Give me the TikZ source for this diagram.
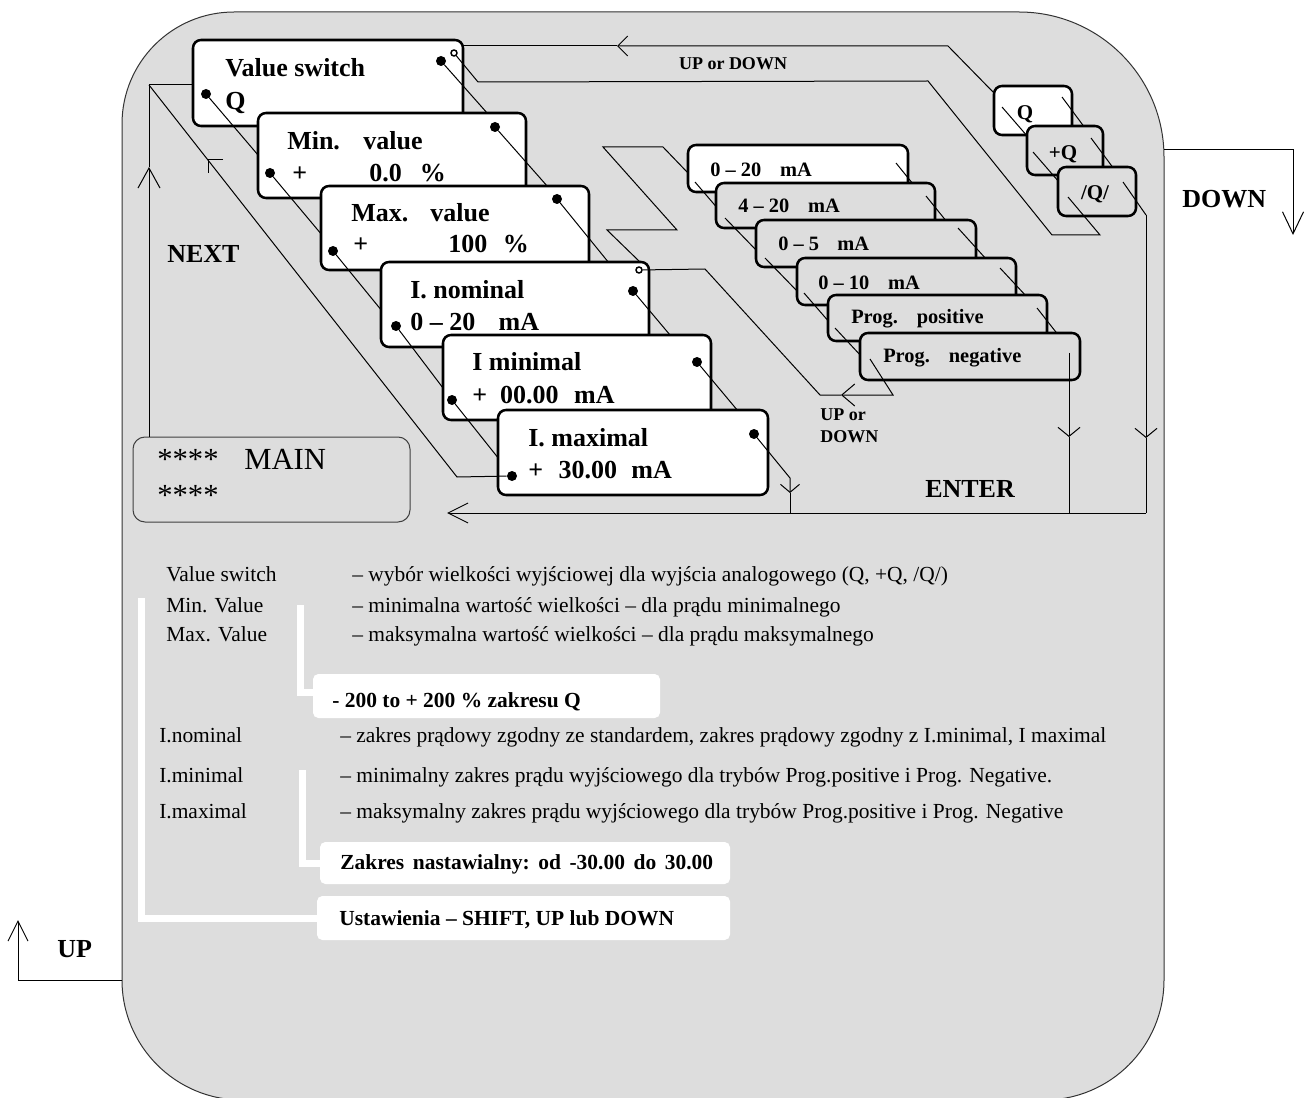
\documentclass[tikz,border=0pt]{standalone}
\usepackage{fontspec}
\setmainfont{Liberation Serif}
\usetikzlibrary{arrows.meta,fit}
\definecolor{panelgray}{RGB}{221,221,221}
\newcommand\fcard{\fontsize{19.5pt}{20pt}\selectfont\bfseries}
\newcommand\fma{\fontsize{15.3pt}{16pt}\selectfont\bfseries}
\newcommand\fqq{\fontsize{15.75pt}{16pt}\selectfont\bfseries}
\newcommand\fsmall{\fontsize{13.5pt}{14pt}\selectfont\bfseries}
\newcommand\fbig{\fontsize{19.5pt}{20pt}\selectfont\bfseries}
\newcommand\fmain{\fontsize{23pt}{24pt}\selectfont}
\newcommand\fdesc{\fontsize{16.1pt}{17pt}\selectfont}
\newcommand\fnote{\fontsize{16.1pt}{17pt}\selectfont\bfseries}
\tikzset{
  thinln/.style={line width=0.75pt},
  card/.style={draw, line width=1.9pt, rounded corners=6pt, inner sep=0pt},
  wcard/.style={card, fill=white},
  gcard/.style={card, fill=panelgray},
  dot/.style={circle, fill=black, inner sep=0pt, minimum size=7.5pt},
  hollow/.style={circle, draw, line width=1.1pt, fill=white, inner sep=0pt, minimum size=4.5pt},
  txt/.style={inner sep=0pt, anchor=base west},
  ctxt/.style={inner sep=0pt, anchor=base},
  notebox/.style={fill=white, rounded corners=4pt, inner sep=0pt},
  bracket/.style={white, line width=5.25pt},
}
\begin{document}
\begin{tikzpicture}[x=0.75pt,y=-0.75pt]
\useasboundingbox (0,0) rectangle (1307,1098);

% ---- panel -------------------------------------------------------------
\filldraw[fill=panelgray, draw=black!80, line width=0.75pt]
  (122,980) -- (122,124) arc[start angle=180,end angle=270,radius=112]
  -- (1019,12) arc[start angle=270,end angle=360,radius=145]
  -- (1164,980) arc[start angle=0,end angle=90,radius=120]
  -- (242,1100) arc[start angle=90,end angle=180,radius=120] -- cycle;

% ---- DOWN / UP keys outside the panel -----------------------------------
\coordinate (downA) at (1164,150);
\coordinate (downB) at (1293,150);
\coordinate (downC) at (1293,235);
\draw[thinln,-{Straight Barb[length=16.5pt,width=15.75pt]}] (downA) -- (downB) -- (downC);
\node[txt] (downL) at (1182,208) {\fbig DOWN};
\coordinate (upA) at (122,980);
\coordinate (upB) at (18,980);
\coordinate (upC) at (18,920);
\draw[thinln,-{Straight Barb[length=15pt,width=15pt]}] (upA) -- (upB) -- (upC);
\node[txt] (upL) at (57,957) {\fbig UP};

% ---- NEXT loop ------------------------------------------------------------
\draw[thinln, rounded corners=9pt, draw=black!75] (133,437) rectangle (410,522);
\node[txt] (st1) at (157,469) {\fmain ****};
\node[txt] (mainL) at (244,469) {\fmain MAIN};
\node[txt] (st2) at (157,505) {\fmain ****};
\coordinate (mainTop) at (149,437);
\coordinate (nextTip) at (149,167);
\coordinate (nextCorner) at (149,85);
\draw[thinln,-{Straight Barb[length=15pt,width=16.5pt]}] (mainTop) -- (nextTip);
\draw[thinln] (nextTip) -- (nextCorner) -- (193,85);
\draw[thinln] (223,160) -- (208,160) -- (208,173);
\node[txt] (nextL) at (167,263) {\fbig NEXT};

% ---- UP or DOWN loop (top) ----------------------------------------------
\coordinate (topTip) at (617,46);
\draw[thinln,-{Straight Barb[length=7.5pt,width=15pt]}] (994,93) -- (948,46) -- (topTip);
\draw[thinln] (topTip) -- (463,46);
\node[ctxt] (udTop) at (733,70) {\fsmall UP or DOWN};

% ---- zigzag from I. nominal to the current ranges -----------------------
\draw[thinln] (640,262) -- (607,230) -- (677,230) -- (603,147) -- (663,147) -- (688,173);

% ---- parameter cards --------------------------------------------------------
\node[wcard, fit={(193,40) (463,126)}] (vs) {};
\node[txt] at (225,77) {\fcard Value switch};
\node[txt] at (225,110) {\fcard Q};
\node[dot] (vsL) at (206,94) {};
\node[dot] (vsR) at (441,61) {};
\node[hollow] (vsH) at (454,53) {};
\draw[thinln] (vsL) -- (258,155);
\draw[thinln] (vsR) -- (488,114);

\node[wcard, fit={(258,113) (526,198)}] (minv) {};
\node[txt] at (287,150) {\fcard Min.\hspace{0.9em}value};
\node[txt] at (292,182) {\fcard +};
\node[txt] at (369,182) {\fcard 0.0\hspace{0.7em}\%};
\node[dot] (minL) at (270,173) {};
\node[dot] (minR) at (495,127) {};
\draw[thinln] (minL) -- (322,235);
\draw[thinln] (minR) -- (548,187);

\node[wcard, fit={(321,186) (589,270)}] (maxv) {};
\node[txt] at (351,222) {\fcard Max.\hspace{0.85em}value};
\node[txt] at (353,253) {\fcard +};
\node[txt] at (448,253) {\fcard 100\hspace{0.6em}\%};
\node[dot] (maxL) at (333,251) {};
\node[dot] (maxR) at (557,199) {};
\draw[thinln] (maxL) -- (382,311);
\draw[thinln] (maxR) -- (609,263);

\node[wcard, fit={(381,262) (649,347)}] (inom) {};
\node[txt] at (410,299) {\fcard I. nominal};
\node[txt] at (410,330) {\fcard 0 – 20\hspace{0.9em}mA};
\node[dot] (inomL) at (396,326) {};
\node[dot] (inomR) at (633,291) {};
\node[hollow] (inomH) at (639,270) {};
\draw[thinln] (inomL) -- (443,388);
\draw[thinln] (inomR) -- (670,335);

\node[wcard, fit={(443,335) (711,420)}] (imin) {};
\node[txt] at (472,371) {\fcard I minimal};
\node[txt] at (472,403) {\fcard +\hspace{0.5em}00.00\hspace{0.6em}mA};
\node[dot] (iminL) at (452,400) {};
\node[dot] (iminR) at (697,362) {};
\draw[thinln] (iminL) -- (499,459);
\draw[thinln] (iminR) -- (738,411);

\node[wcard, fit={(498,410) (768,495)}] (imax) {};
\node[txt] at (528,446) {\fcard I. maximal};
\node[txt] at (528,478) {\fcard +\hspace{0.6em}30.00\hspace{0.55em}mA};
\node[dot] (imaxL) at (512,476) {};
\node[dot] (imaxR) at (754,434) {};
\draw[thinln] (nextCorner) -- (457,477) -- (imaxL);

% ---- current range cards --------------------------------------------------
\node[wcard, fit={(688,145) (908,192)}] (r1) {};
\node[txt] at (710,177) {\fma 0 – 20\hspace{0.93em}mA};
\draw[thinln] (695,182) -- (719,210);
\draw[thinln] (896,163) -- (913,184);
\node[gcard, fit={(716,183) (935,228)}] (r2) {};
\node[txt] at (738,213) {\fma 4 – 20\hspace{0.93em}mA};
\draw[thinln] (725,218) -- (757,251);
\draw[thinln] (926,196) -- (947,222);
\node[gcard, fit={(756,220) (976,267)}] (r3) {};
\node[txt] at (778,251) {\fma 0 – 5\hspace{0.9em}mA};
\draw[thinln] (765,258) -- (798,292);
\draw[thinln] (958,228) -- (987,260);
\node[gcard, fit={(797,258) (1016,305)}] (r4) {};
\node[txt] at (818,290) {\fma 0 – 10\hspace{0.93em}mA};
\draw[thinln] (804,293) -- (830,323);
\draw[thinln] (1000,268) -- (1027,297);
\node[gcard, fit={(828,295) (1047,341)}] (r5) {};
\node[txt] at (851,324) {\fma Prog.\hspace{0.93em}positive};
\draw[thinln] (835,328) -- (862,357);
\draw[thinln] (1037,308) -- (1059,336);
\node[gcard, fit={(860,333) (1080,380)}] (r6) {};
\node[txt] at (883,363) {\fma Prog.\hspace{0.93em}negative};

% return path of the ranges
\coordinate (rTip) at (841,395);
\draw[thinln,-{Straight Barb[length=9.75pt,width=16.5pt]}] (870,359) -- (893,395) -- (rTip);
\draw[thinln] (rTip) -- (820,395) -- (705,269) -- (inomH);
\node[txt] at (820,420) {\fsmall UP or};
\node[txt] at (820,442) {\fsmall DOWN};

% ---- Q / +Q / /Q/ cards --------------------------------------------------------
\node[wcard, fit={(994,86) (1072,135)}] (q1) {};
\node[ctxt] at (1025,120) {\fqq Q};
\draw[thinln] (1002,107) -- (1028,137);
\draw[thinln] (1062,97) -- (1085,128);
\node[gcard, fit={(1027,126) (1103,175)}] (q2) {};
\node[ctxt] at (1063,160) {\fqq +Q};
\draw[thinln] (1033,152) -- (1059,182);
\draw[thinln] (1091,138) -- (1114,169);
\node[gcard, fit={(1058,167) (1136,216)}] (q3) {};
\node[ctxt] at (1095,200) {\fqq /Q/};
\draw[thinln] (1068,197) -- (1100,235) -- (1052,235) -- (928,81) -- (478,82) -- (vsH);

% ---- ENTER paths ---------------------------------------------------------------
\coordinate (eQ) at (1146,215);
\coordinate (eQtip) at (1146,438);
\coordinate (eQbot) at (1146,513);
\draw[thinln] (1123,182) -- (eQ);
\draw[thinln,-{Straight Barb[length=6.75pt,width=16.5pt]}] (eQ) -- (eQtip);
\draw[thinln] (eQtip) -- (eQbot);
\coordinate (eR) at (1069,353);
\coordinate (eRtip) at (1069,437);
\coordinate (eRbot) at (1069,513);
\draw[thinln,-{Straight Barb[length=6.75pt,width=16.5pt]}] (eR) -- (eRtip);
\draw[thinln] (eRtip) -- (eRbot);
\coordinate (eI) at (790,478);
\coordinate (eItip) at (790,493);
\coordinate (eIbot) at (790,513);
\draw[thinln,-{Straight Barb[length=6pt,width=14.25pt]}] (imaxR) -- (eI) -- (eItip);
\draw[thinln] (eItip) -- (eIbot);
\coordinate (eEnd) at (447,513);
\draw[thinln,-{Straight Barb[length=15pt,width=15pt]}] (eQbot) -- (eEnd);
\node[txt] at (925,497) {\fbig ENTER};

% ---- legend ----------------------------------------------------------------------
\draw[bracket] (141,598) -- (141,918) -- (318,918);
\draw[bracket] (300,605) -- (300,692) -- (314,692);
\draw[bracket] (302,770) -- (302,863) -- (321,863);
\node[notebox, fit={(313,674) (660,718)}] (n1) {};
\node[txt] at (332,707) {\fnote - 200 to + 200 \% zakresu Q};
\node[notebox, fit={(320,842) (730,884)}] (n2) {};
\node[txt] at (340,869) {\fnote Zakres\hspace{0.4em}nastawialny:\hspace{0.4em}od\hspace{0.4em}-30.00\hspace{0.4em}do\hspace{0.4em}30.00};
\node[notebox, fit={(317,896) (730,940)}] (n3) {};
\node[txt] at (339,925) {\fnote Ustawienia – SHIFT, UP lub DOWN};

\node[txt] at (166,581) {\fdesc Value switch};
\node[txt] at (352,581) {\fdesc – wybór wielkości wyjściowej dla wyjścia analogowego (Q, +Q, /Q/)};
\node[txt] at (166,612) {\fdesc Min. Value};
\node[txt] at (352,612) {\fdesc – minimalna wartość wielkości – dla prądu minimalnego};
\node[txt] at (166,641) {\fdesc Max. Value};
\node[txt] at (352,641) {\fdesc – maksymalna wartość wielkości – dla prądu maksymalnego};
\node[txt] at (159,742) {\fdesc I.nominal};
\node[txt] at (340,742) {\fdesc – zakres prądowy zgodny ze standardem, zakres prądowy zgodny z I.minimal, I maximal};
\node[txt] at (159,782) {\fdesc I.minimal};
\node[txt] at (340,782) {\fdesc – minimalny zakres prądu wyjściowego dla trybów Prog.positive i Prog. Negative.};
\node[txt] at (159,818) {\fdesc I.maximal};
\node[txt] at (340,818) {\fdesc – maksymalny zakres prądu wyjściowego dla trybów Prog.positive i Prog. Negative};
\end{tikzpicture}
\end{document}
